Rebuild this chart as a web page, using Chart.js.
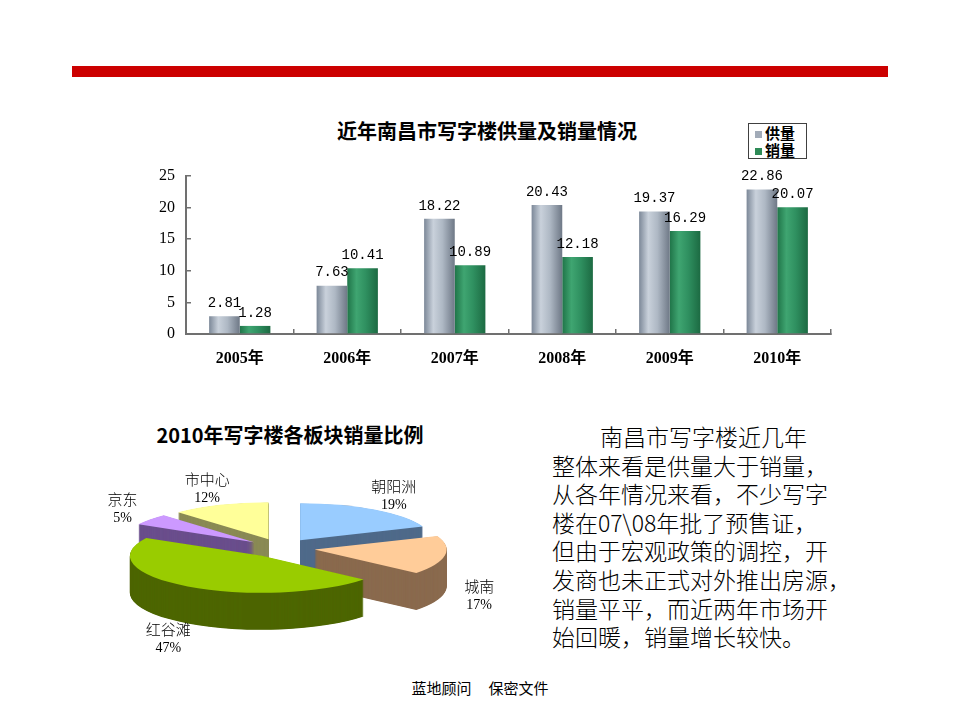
<!DOCTYPE html>
<html><head><meta charset="utf-8">
<script src="https://cdn.jsdelivr.net/npm/chart.js@4"></script>
<style>
html,body{margin:0;padding:0;background:#fff}
body{width:960px;height:720px;position:relative;overflow:hidden;font-family:"Noto Sans CJK SC",sans-serif;color:#000}
#redbar{position:absolute;left:72px;top:66px;width:816px;height:11px;background:#CC0000}
#barTitle{position:absolute;left:287px;top:119px;width:400px;text-align:center;font-weight:700;font-size:20px;line-height:24px}
#legend{position:absolute;left:748px;top:123px;width:59px;height:36px;border:1px solid #404040;box-sizing:border-box;padding-left:6px;font-weight:700;font-size:15px;line-height:17px}
#legend .sw{display:inline-block;width:7px;height:7px;margin-right:3px;vertical-align:1px}
#bar{position:absolute;left:130px;top:100px}
#pieTitle{position:absolute;left:90px;top:423px;width:400px;text-align:center;font-weight:700;font-size:20px;line-height:24px}
#pie{position:absolute;left:90px;top:455px}
#para{position:absolute;left:552px;top:422px;width:320px;font-size:23px;font-weight:300;line-height:28.6px;text-indent:48px}
#footer{position:absolute;left:380px;top:678px;width:200px;text-align:center;font-size:15px;line-height:20px;white-space:pre}
</style></head><body>
<div id="redbar"></div>
<div id="barTitle">近年南昌市写字楼供量及销量情况</div>
<div id="legend"></div>
<canvas id="bar" width="720" height="290"></canvas>
<div id="pieTitle">2010年写字楼各板块销量比例</div>
<canvas id="pie" width="420" height="220"></canvas>
<div id="para">南昌市写字楼近几年<br>整体来看是供量大于销量，<br>从各年情况来看，不少写字<br>楼在07\08年批了预售证，<br>但由于宏观政策的调控，开<br>发商也未正式对外推出房源，<br>销量平平，而近两年市场开<br>始回暖，销量增长较快。</div>
<div id="footer">蓝地顾问     保密文件</div>
<script>
// ---- data ----
const years = ['2005年','2006年','2007年','2008年','2009年','2010年'];
const seriesNames = ['供量','销量'];
const supply = [2.81, 7.63, 18.22, 20.43, 19.37, 22.86];
const sales = [1.28, 10.41, 10.89, 12.18, 16.29, 20.07];
const yTicks = [0, 5, 10, 15, 20, 25];
const districts = ['朝阳洲','城南','红谷滩','京东','市中心'];
const shares = [19, 17, 47, 5, 12];

// ---- styles ----
const swatch = ['#A2ABB8', '#2E8B57'];
const gradStops = [
  ['#7C8898', '#C9D1DB', '#AEB8C4', '#6E7886'],
  ['#1F7448', '#3FA571', '#2F9060', '#1C6A42']
];
const pieTop = ['#99CCFF', '#FFCC99', '#99CC00', '#CC99FF', '#FFFF99'];
const pieSide = ['#4F6A8A', '#8A6A4E', '#4D6600', '#6A4E8C', '#8A8A55'];
const CAT_PCT = 0.57;

document.getElementById('legend').innerHTML = seriesNames.map((n, i) =>
  '<div><span class="sw" style="background:' + swatch[i] + '"></span>' + n + '</div>').join('');

function barFill(ctx) {
  const di = ctx.datasetIndex;
  if (ctx.type !== 'data') return swatch[di];
  const chart = ctx.chart;
  const xs = chart.scales.x;
  if (!chart.chartArea || !xs) return swatch[di];
  const cat = (xs.right - xs.left) / years.length;
  const bw = cat * CAT_PCT / 2;
  const c = xs.getPixelForValue(ctx.dataIndex);
  const left = c - bw + di * bw;
  const g = chart.ctx.createLinearGradient(left, 0, left + bw, 0);
  const s = gradStops[di];
  g.addColorStop(0, s[0]); g.addColorStop(0.3, s[1]); g.addColorStop(0.6, s[2]); g.addColorStop(1, s[3]);
  return g;
}

const barLabels = {
  id: 'barLabels',
  afterDatasetsDraw(chart) {
    const c = chart.ctx;
    c.save();
    c.font = '14px "Liberation Mono"';
    c.fillStyle = '#000'; c.textAlign = 'center'; c.textBaseline = 'bottom';
    chart.data.datasets.forEach((ds, di) => {
      chart.getDatasetMeta(di).data.forEach((el, i) => {
        c.fillText(ds.data[i].toFixed(2), el.x, el.y - 6);
      });
    });
    c.restore();
  }
};

new Chart(document.getElementById('bar'), {
  type: 'bar',
  data: {
    labels: years,
    datasets: [
      { label: seriesNames[0], data: supply, backgroundColor: barFill, categoryPercentage: CAT_PCT, barPercentage: 1.0, borderWidth: 0 },
      { label: seriesNames[1], data: sales, backgroundColor: barFill, categoryPercentage: CAT_PCT, barPercentage: 1.0, borderWidth: 0 }
    ]
  },
  options: {
    responsive: false, animation: false, events: [],
    layout: { padding: { left: 0, right: 19, top: 76, bottom: 16 } },
    plugins: { legend: { display: false }, title: { display: false }, tooltip: { enabled: false } },
    scales: {
      x: {
        grid: { display: true, drawOnChartArea: false, drawTicks: true, tickLength: -5, color: '#707070', lineWidth: 1.5, offset: true },
        border: { color: '#707070', width: 2 },
        ticks: { color: '#000', padding: 20, font: { family: '"Liberation Serif","Noto Sans CJK SC"', weight: 'bold', size: 16 } },
        afterFit(s) { s.height = 40; }
      },
      y: {
        min: 0, max: 25,
        afterBuildTicks(s) { s.ticks = yTicks.map(v => ({ value: v })); },
        grid: { display: true, drawOnChartArea: false, drawTicks: true, tickLength: -5, color: '#707070', lineWidth: 1.5 },
        border: { color: '#707070', width: 2 },
        ticks: { color: '#000', padding: 16, font: { family: '"Liberation Serif"', size: 16 } },
        afterFit(s) { s.width = 56; }
      }
    }
  },
  plugins: [barLabels]
});

// ---- 3D exploded pie ----
const K = 0.28, DEPTH = 37, EXPLODE = 34;
const mid = el => (el.startAngle + el.endAngle) / 2;
const pie3d = {
  id: 'pie3d',
  afterDatasetUpdate(chart) {
    chart.getDatasetMeta(0).data.forEach(el => {
      if (el._wrapped) return;
      el._wrapped = true;
      const base = Object.getPrototypeOf(el).draw;
      el.draw = function (ctx) {
        const m = (this.startAngle + this.endAngle) / 2;
        ctx.save();
        ctx.translate(Math.cos(m) * EXPLODE, Math.sin(m) * EXPLODE);
        base.call(this, ctx);
        ctx.restore();
      };
    });
  },
  beforeDatasetsDraw(chart) {
    const ctx = chart.ctx;
    const els = chart.getDatasetMeta(0).data;
    if (!els.length) return;
    const cx = els[0].x, cy = els[0].y;
    const order = els.map((e, i) => i).sort((a, b) => Math.sin(mid(els[a])) - Math.sin(mid(els[b])));
    for (const i of order) {
      const el = els[i];
      const proxy = Object.create(el);
      proxy.options = Object.assign({}, el.options, { backgroundColor: pieSide[i], borderWidth: 0 });
      for (let d = DEPTH; d > 0; d -= 0.5) {
        ctx.save();
        ctx.translate(cx, cy + d); ctx.scale(1, K); ctx.translate(-cx, -cy);
        proxy.draw(ctx);
        ctx.restore();
      }
    }
    ctx.save();
    ctx.translate(cx, cy); ctx.scale(1, K); ctx.translate(-cx, -cy);
  },
  afterDatasetsDraw(chart) {
    const ctx = chart.ctx;
    const els = chart.getDatasetMeta(0).data;
    if (!els.length) return;
    ctx.restore();
    const cx = els[0].x, cy = els[0].y;
    ctx.save();
    ctx.fillStyle = '#000'; ctx.textAlign = 'center'; ctx.textBaseline = 'middle';
    els.forEach((el, i) => {
      const m = mid(el);
      const rl = el.outerRadius * 1.52;
      const x = cx + Math.cos(m) * rl;
      let y = cy + Math.sin(m) * rl * 0.32;
      if (Math.sin(m) > 0) y += DEPTH;
      ctx.font = '300 15px "Noto Sans CJK SC"';
      ctx.fillText(districts[i], x, y - 9);
      ctx.font = '14px "Liberation Serif"';
      ctx.fillText(shares[i] + '%', x, y + 10);
    });
    ctx.restore();
  }
};

new Chart(document.getElementById('pie'), {
  type: 'pie',
  data: {
    labels: districts,
    datasets: [{ data: shares, backgroundColor: pieTop, borderWidth: 0, radius: 132, clip: false }]
  },
  options: {
    responsive: false, animation: false, events: [],
    layout: { padding: { left: 0, right: 38, top: 0, bottom: 34 } },
    plugins: { legend: { display: false }, tooltip: { enabled: false }, title: { display: false } }
  },
  plugins: [pie3d]
});
</script>
</body></html>
